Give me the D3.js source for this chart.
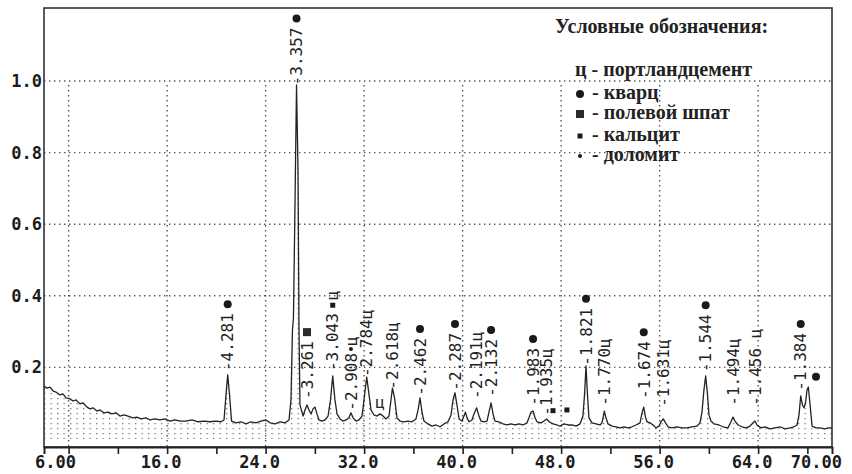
<!DOCTYPE html>
<html>
<head>
<meta charset="utf-8">
<script src="https://cdn.jsdelivr.net/npm/d3@7"></script>
<style>
  body { margin: 0; background: #fff; }
  #Diffractogram { width: 852px; height: 474px; }
  .axis-label { font-family: "DejaVu Sans Mono", monospace; font-weight: bold; font-size: 17px; fill: #1c1c1c; }
  .peak-label { font-family: "DejaVu Sans Mono", monospace; font-size: 16px; fill: #222; }
  .legend text { font-family: "Liberation Serif", serif; font-weight: bold; font-size: 20px; fill: #222; }
</style>
</head>
<body>
<div id="Diffractogram"></div>
<script>
// 2theta, degrees
const twoTheta = [
  6.00, 6.24, 6.49, 6.73, 6.97, 7.30, 7.54, 7.79, 8.11, 8.36,
  8.60, 8.92, 9.17, 9.49, 9.74, 9.98, 10.30, 10.55, 10.87, 11.20,
  11.52, 11.85, 12.17, 12.50, 12.82, 13.23, 13.55, 13.88, 14.28, 14.61,
  15.02, 15.42, 15.83, 16.23, 16.64, 17.05, 17.53, 18.02, 18.51, 19.00,
  19.48, 19.97, 20.38, 20.62, 20.78, 20.92, 21.07, 21.23, 21.59, 22.00,
  22.41, 22.81, 23.22, 23.62, 24.03, 24.36, 24.76, 25.17, 25.57, 25.90,
  26.06, 26.18, 26.26, 26.39, 26.51, 26.63, 26.71, 26.79, 27.04, 27.20,
  27.36, 27.52, 27.69, 27.85, 28.01, 28.17, 28.34,
  28.58, 28.82, 29.07, 29.27, 29.45, 29.63, 29.80, 30.04, 30.28, 30.53,
  30.77, 30.93, 31.10, 31.34, 31.58, 31.83, 31.99, 32.21, 32.40, 32.56,
  32.80, 33.05, 33.29, 33.53, 33.78, 34.02, 34.18, 34.30, 34.47, 34.67,
  34.91, 35.24, 35.56, 35.89, 36.21, 36.38, 36.54, 36.70, 36.86, 37.19,
  37.51, 37.84, 38.16, 38.49, 38.81, 39.06, 39.22, 39.38, 39.54, 39.71,
  39.95, 40.11, 40.23, 40.36, 40.52, 40.76, 40.92, 41.14, 41.33, 41.49,
  41.74, 41.98, 42.14, 42.31, 42.47, 42.63, 42.95, 43.28, 43.60, 43.93,
  44.25, 44.58, 44.90, 45.23, 45.39, 45.55, 45.72, 45.88, 46.04, 46.37,
  46.61, 46.83, 47.02, 47.34, 47.67, 47.91, 48.23, 48.56, 48.88, 49.21,
  49.53, 49.77, 49.90, 50.02, 50.14, 50.26, 50.51, 50.83, 51.16,
  51.32, 51.51, 51.64, 51.81, 52.13, 52.46, 52.78, 53.11, 53.43, 53.76,
  54.08, 54.41, 54.57, 54.71, 54.85, 54.98, 55.22, 55.46, 55.71, 55.95,
  56.11, 56.30, 56.48, 56.68, 57.00, 57.41, 57.82, 58.22, 58.63, 59.04,
  59.28, 59.44, 59.60, 59.74, 59.89, 60.01, 60.17, 60.42, 60.82, 61.15,
  61.55, 61.80, 61.96, 62.12, 62.37, 62.69, 63.02, 63.34, 63.58, 63.75,
  63.91, 64.23, 64.56, 64.97, 65.37, 65.78, 66.18, 66.59, 66.91, 67.16,
  67.32, 67.46, 67.60, 67.73, 67.85, 67.97, 68.08, 68.22, 68.38, 68.71,
  69.04, 69.38, 69.76, 70.00
];
// relative intensity
const intensity = [
  .148, .142, .145, .134, .131, .123, .126, .115, .112, .106,
  .109, .098, .101, .089, .084, .087, .078, .081, .073, .075,
  .070, .073, .064, .067, .064, .059, .061, .056, .059, .053,
  .056, .053, .056, .050, .053, .050, .050, .053, .048, .050,
  .048, .050, .048, .053, .123, .179, .123, .050, .045, .048,
  .042, .048, .045, .050, .053, .045, .042, .048, .045, .053,
  .109, .305, .338, .668, .989, .752, .305, .095, .064, .081,
  .095, .081, .070, .084, .089, .070, .053,
  .050, .053, .064, .109, .176, .109, .070, .056, .050, .053,
  .059, .073, .059, .050, .053, .064, .109, .173, .123, .081,
  .067, .064, .070, .064, .056, .064, .109, .142, .115, .059,
  .050, .048, .050, .048, .056, .081, .115, .075, .050, .042,
  .036, .039, .034, .042, .048, .067, .109, .129, .095, .056,
  .050, .064, .075, .059, .048, .053, .070, .087, .064, .050,
  .048, .050, .075, .101, .070, .050, .048, .042, .039, .042,
  .039, .042, .039, .045, .059, .075, .078, .059, .048, .045,
  .050, .056, .048, .042, .039, .036, .042, .039, .039, .036,
  .042, .064, .123, .204, .123, .059, .045, .042, .039,
  .045, .078, .059, .042, .036, .034, .031, .034, .031, .034,
  .039, .045, .073, .089, .061, .048, .045, .039, .031, .036,
  .048, .056, .045, .034, .031, .034, .031, .031, .034, .036,
  .045, .075, .137, .176, .123, .067, .050, .042, .039, .034,
  .031, .048, .061, .050, .039, .034, .031, .036, .045, .050,
  .039, .031, .034, .028, .031, .034, .028, .031, .034, .039,
  .067, .120, .095, .087, .101, .137, .145, .095, .036, .031,
  .031, .028, .031, .031
];

// peak labels: d-spacing, 2theta, level where the label starts, marks after it
const peakD = ["4.281", "3.357", "3.261", "3.043", "2.908", "2.784", "2.618", "2.462", "2.287", "2.191", "2.132",
  "1.983", "1.935", "1.821", "1.770", "1.674", "1.631", "1.544", "1.494", "1.456", "1.384"];
const peakPos = [20.92, 26.51, 27.36, 29.45, 30.93, 32.21, 34.30, 36.54, 39.38, 41.14, 42.31,
  45.72, 46.83, 50.02, 51.51, 54.71, 56.30, 59.74, 61.96, 63.75, 67.46];
const peakLevel = [.187, .985, .109, .187, .076, .170, .135, .118, .132, .109, .115,
  .090, .062, .202, .090, .109, .087, .184, .090, .090, .132];
const peakMark = ["●", "●", "■", "▪ц", "•ц", "ц", "ц", "●", "●", "ц", "●",
  "●", "ц", "●", "ц", "●", "ц", "●", "ц", " ц", "●"];

// loose marks without d-values
const calcitePos = [47.34, 48.47];
const calciteLevel = [.079, .081];
const quartzExtraPos = [68.70];
const quartzExtraLevel = [.174];
const cementPos = [33.29];
const cementLevel = [.103];

const xTickValues = [6, 16, 24, 32, 40, 48, 56, 64, 70];
const xTickLabels = ["6.00", "16.0", "24.0", "32.0", "40.0", "48.0", "56.0", "64.0", "70.00"];
const xMinorTicks = [8, 12, 16, 20, 24, 28, 32, 36, 40, 44, 48, 52, 56, 60, 64, 68];
const xGrid = [8, 16, 24, 32, 40, 48, 56, 64];
const yTickValues = [0.2, 0.4, 0.6, 0.8, 1.0];
const yTickLabels = ["0.2", "0.4", "0.6", "0.8", "1.0"];

const legendTitle = "Условные обозначения:";
const legendCement = "ц - портландцемент";
const legendMarks = ["●", "■", "▪", "•"];
const legendLabels = ["- кварц", "- полевой шпат", "- кальцит", "- доломит"];

const w = 852, h = 474;
const margin = { top: 8, right: 20, bottom: 27, left: 44 };
const plotRight = w - margin.right;
const plotBottom = h - margin.bottom;

const svg = d3.select("#Diffractogram").append("svg")
  .attr("width", w)
  .attr("height", h);

// SCALES
const x = d3.scaleLinear().domain([6, 70]).range([margin.left, plotRight]);
const y = d3.scaleLinear().domain([-0.0225, 1.204]).range([plotBottom, margin.top]);

const data = twoTheta.map((t, i) => ({ t: t, v: intensity[i] }));

// stipple under the curve
svg.append("defs").append("pattern")
  .attr("id", "stipple")
  .attr("patternUnits", "userSpaceOnUse")
  .attr("x", margin.left)
  .attr("y", y(0) - 1)
  .attr("width", 6.5)
  .attr("height", 5)
  .append("rect")
  .attr("width", 1.3).attr("height", 1.3)
  .attr("fill", "#777");

// GRID
const dotted = { stroke: "#555", width: 1.4, dash: "1.4,3.6" };
svg.append("g").selectAll("line").data(yTickValues).join("line")
  .attr("x1", margin.left).attr("x2", plotRight)
  .attr("y1", d => y(d)).attr("y2", d => y(d))
  .attr("stroke", dotted.stroke).attr("stroke-width", dotted.width)
  .attr("stroke-dasharray", dotted.dash);
svg.append("g").selectAll("line").data(xGrid).join("line")
  .attr("x1", d => x(d)).attr("x2", d => x(d))
  .attr("y1", y(1.0) + 4).attr("y2", plotBottom)
  .attr("stroke", dotted.stroke).attr("stroke-width", dotted.width)
  .attr("stroke-dasharray", dotted.dash);

// AREA + LINE
const area = d3.area().x(d => x(d.t)).y0(y(0)).y1(d => y(d.v));
const line = d3.line().x(d => x(d.t)).y(d => y(d.v));

svg.append("path").datum(data)
  .attr("d", area)
  .attr("fill", "url(#stipple)");
svg.append("path").datum(data)
  .attr("d", line)
  .attr("fill", "none")
  .attr("stroke", "#222")
  .attr("stroke-width", 1.3)
  .attr("stroke-linejoin", "round");

// FRAME
svg.append("rect")
  .attr("x", margin.left).attr("y", margin.top)
  .attr("width", plotRight - margin.left).attr("height", plotBottom - margin.top)
  .attr("fill", "none").attr("stroke", "#333").attr("stroke-width", 1.6);

// AXES
const xAxis = svg.append("g")
  .attr("transform", "translate(0," + plotBottom + ")")
  .call(d3.axisBottom(x).tickValues(xMinorTicks).tickSize(7).tickSizeOuter(7).tickFormat(""));
xAxis.select(".domain").attr("stroke", "#222").attr("stroke-width", 2);
xAxis.selectAll(".tick line").attr("stroke", "#222").attr("stroke-width", 1.6);

svg.append("g").selectAll("text").data(xTickValues).join("text")
  .attr("class", "axis-label")
  .attr("x", (d, i) => i === 0 ? 35 : i === xTickValues.length - 1 ? 842 : x(d) - 6)
  .attr("y", 468)
  .attr("text-anchor", (d, i) => i === 0 ? "start" : i === xTickValues.length - 1 ? "end" : "middle")
  .text((d, i) => xTickLabels[i]);

svg.append("g").selectAll("text").data(yTickValues).join("text")
  .attr("class", "axis-label")
  .attr("x", 42)
  .attr("y", d => y(d))
  .attr("dy", "0.36em")
  .attr("text-anchor", "end")
  .text((d, i) => yTickLabels[i]);

// MARKS
function drawMark(g, ch, cx, cy) {
  if (ch === "●") g.append("circle").attr("cx", cx).attr("cy", cy).attr("r", 4).attr("fill", "#1a1a1a");
  else if (ch === "■") g.append("rect").attr("x", cx - 4).attr("y", cy - 4).attr("width", 8).attr("height", 8).attr("fill", "#2a2a2a");
  else if (ch === "▪") g.append("rect").attr("x", cx - 2.5).attr("y", cy - 2.5).attr("width", 5).attr("height", 5).attr("fill", "#1a1a1a");
  else if (ch === "•") g.append("circle").attr("cx", cx).attr("cy", cy).attr("r", 2).attr("fill", "#1a1a1a");
}
const markSize = { "●": 13, "■": 13, "▪": 13, "•": 7 };
const markOffset = { "●": 9, "■": 9, "▪": 8, "•": 4 };

const labels = svg.append("g");
peakD.forEach((d, i) => {
  const px = x(peakPos[i]);
  let cy = y(peakLevel[i]) - 1;
  const mark = peakMark[i];
  const tail = (mark[0] === "ц" || mark[0] === " ") ? mark : "";
  const t = labels.append("text")
    .attr("class", "peak-label")
    .attr("transform", "translate(" + px + "," + cy + ") rotate(-90)")
    .attr("dy", "0.36em")
    .text("-" + d + tail);
  cy -= t.node().getComputedTextLength();
  if (tail) return;
  for (const ch of mark) {
    if (ch === "ц") {
      labels.append("text")
        .attr("class", "peak-label")
        .attr("transform", "translate(" + px + "," + cy + ") rotate(-90)")
        .attr("dy", "0.36em")
        .text(ch);
    } else {
      drawMark(labels, ch, px, cy - markOffset[ch]);
      cy -= markSize[ch];
    }
  }
});

calcitePos.forEach((p, i) => drawMark(labels, "▪", x(p), y(calciteLevel[i])));
quartzExtraPos.forEach((p, i) => drawMark(labels, "●", x(p), y(quartzExtraLevel[i])));
cementPos.forEach((p, i) => labels.append("text")
  .attr("class", "peak-label")
  .attr("x", x(p)).attr("y", y(cementLevel[i]))
  .attr("dy", "0.36em")
  .attr("text-anchor", "middle")
  .text("ц"));

// LEGEND
const legend = svg.append("g").attr("class", "legend");
legend.append("text").attr("x", 555).attr("y", 33).text(legendTitle);
legend.append("text").attr("x", 575).attr("y", 76).text(legendCement);
const rowY = [99, 119, 141, 161];
legendLabels.forEach((lab, i) => {
  drawMark(legend, legendMarks[i], 580, rowY[i] - 5);
  legend.append("text").attr("x", 592).attr("y", rowY[i]).text(lab);
});
</script>
</body>
</html>
